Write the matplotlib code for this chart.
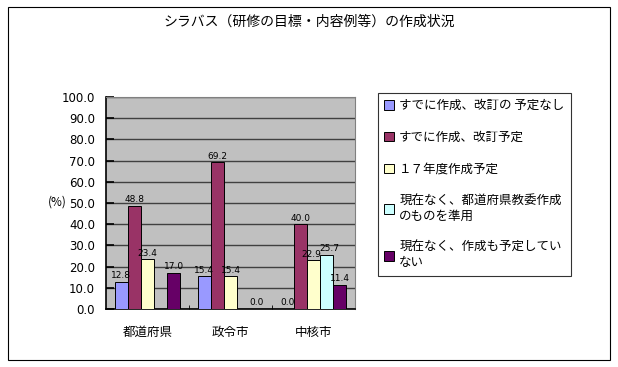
import matplotlib.pyplot as plt
import numpy as np
from matplotlib.patches import Rectangle

plt.rcParams['font.family'] = ['Noto Sans CJK JP', 'DejaVu Sans']

title = 'シラバス（研修の目標・内容例等）の作成状況'
categories = ['都道府県', '政令市', '中核市']
series_names = ['すでに作成、改訂の 予定なし',
                'すでに作成、改訂予定',
                '１７年度作成予定',
                '現在なく、都道府県教委作成\nのものを準用',
                '現在なく、作成も予定してい\nない']
colors = ['#9999FF', '#993366', '#FFFFCC', '#CCFFFF', '#660066']
# None = no bar / no label in the original
values = [
    [12.8, 15.4, 0.0],
    [48.8, 69.2, 40.0],
    [23.4, 15.4, 22.9],
    [None, None, 25.7],
    [17.0, 0.0, 11.4],
]
yticks = [0, 10, 20, 30, 40, 50, 60, 70, 80, 90, 100]

fig = plt.figure(figsize=(6.18, 3.67), dpi=100)
fig.patches.append(Rectangle((8 / 618, 7 / 367), 602 / 618, 353 / 367,
                             transform=fig.transFigure, fill=False,
                             edgecolor='black', linewidth=0.8))

ax = fig.add_axes([106 / 618, 1 - 309 / 367, 249 / 618, 212 / 367])
ax.set_facecolor('#C0C0C0')

x = np.arange(len(categories))
w = 0.157
for i, (vals, c, name) in enumerate(zip(values, colors, series_names)):
    pos = x + (i - 2) * w
    h = [v if v is not None else 0 for v in vals]
    ax.bar(pos, h, w, color=c, edgecolor='black', linewidth=0.7, label=name, zorder=3)
    for j, (p, v) in enumerate(zip(pos, vals)):
        if v is None:
            continue
        # the two crowded labels over 中核市 are pushed apart a little
        nudge = {(2, 2): -0.03, (3, 2): 0.03}.get((i, j), 0)
        ax.text(p + nudge, v + 0.8, f'{v:.1f}', ha='center', va='bottom', fontsize=6.5,
                family='DejaVu Sans', zorder=4)

ax.set_xlim(-0.5, 2.5)
ax.set_ylim(0, 100)
ax.set_yticks(yticks)
ax.set_yticklabels([f'{t:.1f}' for t in yticks], fontsize=8.5, family='DejaVu Sans')
ax.yaxis.grid(True, color='#404040', linewidth=1.0, zorder=1)
ax.tick_params(axis='y', direction='in', length=6, width=1.2, pad=8)
ax.set_xticks(x)
ax.set_xticklabels(categories, fontsize=9)
ax.tick_params(axis='x', length=0, pad=12)
ax.set_xticks([0.5, 1.5], minor=True)
ax.tick_params(axis='x', which='minor', direction='in', length=3)
for s in ['top', 'right']:
    ax.spines[s].set_color('#808080')
ax.spines['left'].set_linewidth(1.2)
ax.spines['bottom'].set_linewidth(1.2)

fig.text(0.5, 1 - 22 / 367, title, ha='center', va='center', fontsize=10)
fig.text(57 / 618, 1 - 202 / 367, '(%)', ha='center', va='center', fontsize=8.5)

leg = fig.legend(loc='upper left', bbox_to_anchor=(378 / 618, 1 - 93 / 367),
                 fontsize=9, frameon=True, fancybox=False, edgecolor='black',
                 handlelength=0.8, handleheight=0.8, handletextpad=0.4,
                 labelspacing=1.5, borderpad=0.5, borderaxespad=0)
leg.get_frame().set_linewidth(0.8)

fig.savefig('out.png', dpi=100)
